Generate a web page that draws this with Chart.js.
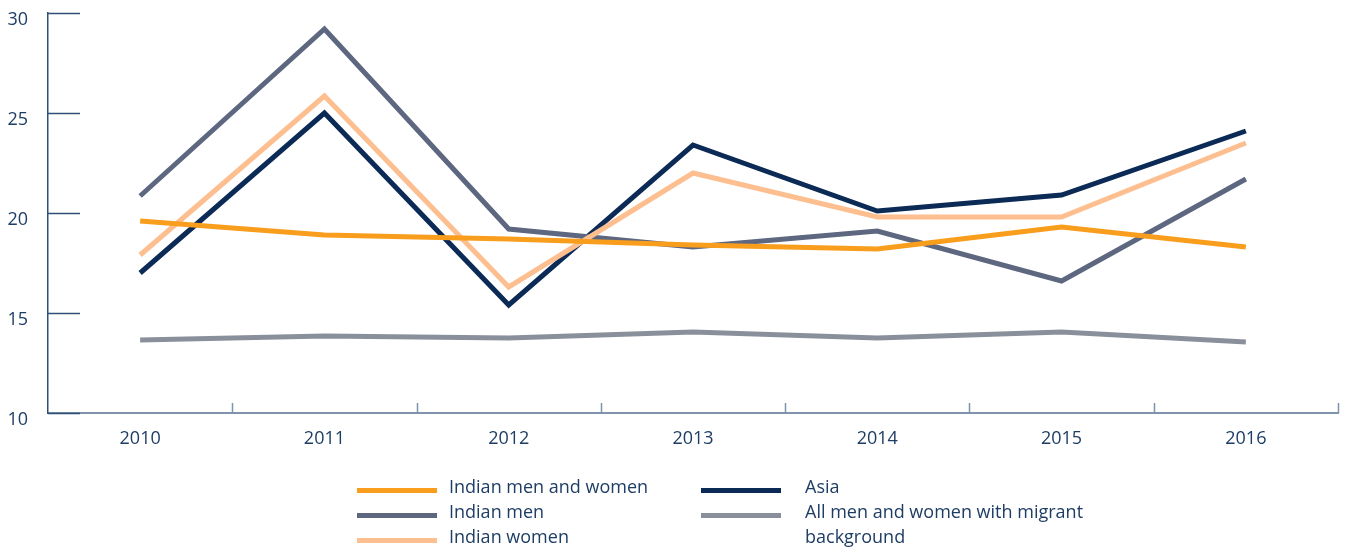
<!DOCTYPE html>
<html><head><meta charset="utf-8">
<script src="https://cdn.jsdelivr.net/npm/chart.js@4/dist/chart.umd.min.js"></script>
<style>
html,body{margin:0;padding:0;background:#fff;}
#wrap{position:relative;width:1349px;height:550px;}
#legend{position:absolute;left:0;top:0;width:1349px;height:550px;pointer-events:none;font-family:"Open Sans","Noto Sans",sans-serif;color:#1e3d64;font-size:18px;}
.li{position:absolute;line-height:25px;}
.sw{position:absolute;width:80px;height:5px;}
</style></head>
<body><div id="wrap"><canvas id="c" width="1349" height="550"></canvas><div id="legend"></div></div>
<script>
const categories = ["2010","2011","2012","2013","2014","2015","2016"];
const indianMenWomen = [19.6, 18.9, 18.7, 18.4, 18.2, 19.3, 18.3];
const indianMen = [20.85, 29.2, 19.2, 18.3, 19.1, 16.6, 21.7];
const indianWomen = [17.9, 25.85, 16.3, 22.0, 19.8, 19.8, 23.5];
const asia = [17.0, 25.0, 15.4, 23.4, 20.1, 20.9, 24.1];
const allMigrant = [13.65, 13.85, 13.75, 14.05, 13.75, 14.05, 13.55];
const yTicks = [10, 15, 20, 25, 30];
const seriesLabels = ["Indian men and women","Indian men","Indian women","Asia","All men and women with migrant background"];
const colors = ["#F99D1C","#5D6880","#FDBE90","#0B2A55","#8A909B"];
const seriesData = [indianMenWomen, indianMen, indianWomen, asia, allMigrant];
const drawOrder = [4, 0, 2, 1, 3];

const innerTicks = {
  id:'innerTicks',
  afterDatasetsDraw(chart){
    const ctx = chart.ctx, y = chart.scales.y, x = chart.scales.x, a = chart.chartArea;
    ctx.save();
    ctx.strokeStyle = '#2f4f77'; ctx.lineWidth = 1.5;
    yTicks.forEach(v=>{
      const py = Math.round(y.getPixelForValue(v))+0.5;
      ctx.beginPath(); ctx.moveTo(a.left, py); ctx.lineTo(a.left+32, py); ctx.stroke();
    });
    ctx.strokeStyle = '#7f93ab';
    for(let i=1;i<=categories.length;i++){
      const px = Math.round(x.getPixelForTick(i-1) + (x.getPixelForTick(1)-x.getPixelForTick(0))/2)+0.5;
      ctx.beginPath(); ctx.moveTo(px, a.bottom); ctx.lineTo(px, a.bottom-10); ctx.stroke();
    }
    ctx.restore();
  }
};

new Chart(document.getElementById('c'), {
  type:'line',
  data:{labels:categories, datasets: drawOrder.map(i=>({
    label:seriesLabels[i], data:seriesData[i], borderColor:colors[i], backgroundColor:colors[i],
    borderWidth:5, pointRadius:0, tension:0, fill:false
  }))},
  options:{
    responsive:false, animation:false,
    layout:{padding:{top:13,right:11,left:0,bottom:0}},
    plugins:{legend:{display:false},tooltip:{enabled:false}},
    scales:{
      x:{offset:true,
        grid:{display:false, drawTicks:false},
        border:{display:true,color:'#7f93ab',width:2},
        ticks:{color:'#1e3d64',font:{family:'"Open Sans","Noto Sans",sans-serif',size:18},padding:15},
        afterFit(s){s.height=137; s.paddingLeft=0; s.paddingRight=0;}
      },
      y:{min:10,max:30,
        grid:{display:false, drawTicks:false},
        border:{display:true,color:'#2f4f77',width:1.5},
        ticks:{stepSize:5,color:'#1e3d64',font:{family:'"Open Sans","Noto Sans",sans-serif',size:18},padding:20,labelOffset:7,
          callback:(v)=>yTicks.includes(v)?String(v):null},
        afterFit(s){s.width=48; s.paddingTop=0; s.paddingBottom=0;}
      }
    }
  },
  plugins:[innerTicks]
});

const lg = document.getElementById('legend');
const pos = [[357,449,474],[357,449,499],[357,449,524],[701,805,474],[701,805,499]];
seriesLabels.forEach((t,i)=>{
  const [sx,tx,ty] = pos[i];
  const sw = document.createElement('div'); sw.className='sw';
  sw.style.left=sx+'px'; sw.style.top=(ty+14)+'px'; sw.style.background=colors[i];
  lg.appendChild(sw);
  const d = document.createElement('div'); d.className='li';
  d.style.left=tx+'px'; d.style.top=ty+'px';
  if(i===4){ d.innerHTML='All men and women with migrant<br>background'; }
  else d.textContent=t;
  lg.appendChild(d);
});
</script></body></html>
